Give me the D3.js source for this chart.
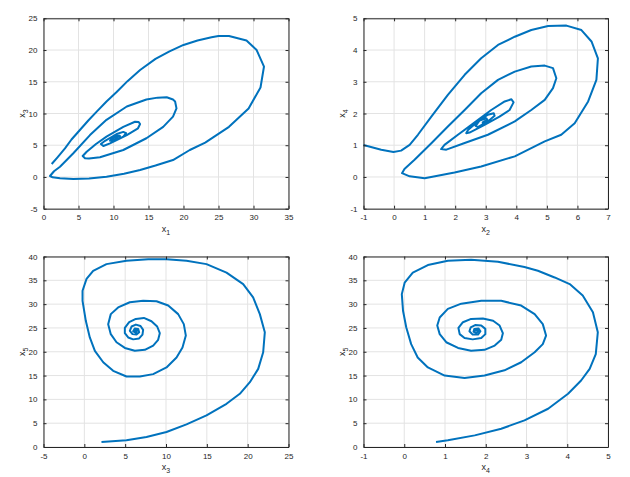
<!DOCTYPE html>
<html>
<head>
<meta charset="utf-8">
<script src="https://cdn.jsdelivr.net/npm/d3@7"></script>
<style>
  body { margin: 0; background: #fff; }
  text { font-family: "Liberation Sans", Arial, sans-serif; }
</style>
</head>
<body>
<svg id="fig" width="630" height="477"></svg>
<script>
// trajectory points, [x, y]
var traj_x1x3 = [[1.17,2.04],[2,3.1],[3.07,4.5],[4,5.9],[5.2,7.4],[6.4,8.9],[7.6,10.3],[9,11.9],[10.45,13.4],[12,15.1],[13.8,16.85],[16,18.6],[18,19.8],[20,20.8],[22,21.5],[24,22.0],[25,22.2],[26.5,22.2],[29.0,21.5],[30.45,20.0],[31.5,17.4],[31.0,14.1],[29.3,10.8],[26.5,7.9],[23.1,5.4],[20.9,4.25],[18.5,2.67],[16,1.8],[13.8,1.1],[11.5,0.5],[9,0.04],[6.5,-0.25],[4.26,-0.32],[2.36,-0.2],[1.3,-0.05],[0.93,0.15],[1.5,0.9],[2.36,1.62],[4.26,3.73],[6.64,6.6],[9.0,9.0],[11.9,11.1],[14.7,12.2],[16.3,12.5],[17.6,12.55],[18.5,12.2],[18.8,11.9],[19.0,10.8],[18.5,9.5],[17.1,7.9],[14.7,6.1],[11.4,4.25],[8.07,3.1],[6.5,2.9],[5.93,2.94],[5.6,3.3],[6.17,3.98],[7.5,5.2],[9.0,6.35],[11.4,7.9],[13.07,8.7],[13.6,8.65],[13.8,8.35],[13.5,7.67],[11.9,6.6],[9.5,5.3],[8.55,4.88],[8.2,5.2],[8.8,5.7],[10.45,6.77],[11.4,7.1],[11.8,6.9],[11.4,6.35],[10.2,5.7],[9.5,5.7],[9.74,6.1],[10.3,6.45],[10.9,6.5],[10.95,6.2],[10.4,5.85],[9.9,5.9],[10.1,6.2],[10.6,6.25],[10.5,6.0],[10.2,6.05]];

var traj_x2x4 = [[-1,1.01],[-0.42,0.86],[-0.02,0.79],[0.23,0.83],[0.51,1.01],[0.78,1.33],[1.22,1.9],[1.76,2.59],[2.31,3.22],[2.85,3.74],[3.40,4.16],[3.95,4.42],[4.49,4.63],[5.04,4.76],[5.64,4.77],[6.13,4.63],[6.46,4.27],[6.67,3.74],[6.62,3.06],[6.35,2.38],[5.91,1.69],[5.47,1.33],[4.93,1.12],[3.95,0.65],[2.85,0.33],[1.98,0.14],[1.0,-0.04],[0.51,0.02],[0.26,0.12],[0.34,0.25],[0.67,0.54],[1.22,1.06],[1.76,1.59],[2.31,2.11],[2.85,2.64],[3.40,3.06],[3.95,3.32],[4.49,3.48],[4.93,3.51],[5.2,3.43],[5.31,3.11],[5.2,2.8],[4.93,2.43],[4.49,2.11],[3.95,1.75],[3.07,1.33],[2.31,1.07],[1.71,0.86],[1.54,0.88],[1.65,1.01],[2.09,1.33],[2.64,1.72],[3.18,2.11],[3.62,2.38],[3.84,2.45],[3.91,2.35],[3.78,2.11],[3.45,1.9],[2.96,1.64],[2.47,1.4],[2.36,1.38],[2.42,1.48],[2.74,1.75],[3.07,1.96],[3.26,2.01],[3.29,1.93],[3.07,1.75],[2.74,1.57],[2.67,1.61],[2.8,1.78],[3.02,1.85],[3.07,1.78],[2.91,1.67],[2.9,1.72],[3.0,1.78],[3.05,1.73],[2.98,1.7]];

var traj_x3x5 = [[2.10,1.05],[5.16,1.40],[7.61,2.09],[10.06,3.14],[12.51,4.75],[14.96,6.63],[17.41,9.07],[19.04,11.17],[20.27,13.61],[21.29,16.4],[21.9,19.9],[22.1,24.1],[21.49,27.9],[20.67,31.4],[19.45,34.2],[17.41,36.6],[14.96,38.4],[12.51,39.1],[10.06,39.4],[7.82,39.4],[5.16,39.1],[2.71,38.4],[1.08,37.0],[0.27,35.3],[-0.22,32.8],[-0.22,30.7],[0.18,26.5],[0.67,23.0],[1.29,20.2],[2.31,17.8],[3.53,16.0],[5.16,14.8],[6.8,14.8],[8.43,15.3],[10.06,16.7],[11.29,18.8],[12.02,20.9],[12.43,23.4],[12.18,25.8],[11.49,27.9],[10.27,29.7],[8.84,30.6],[7.2,30.7],[5.57,30.4],[4.14,29.3],[3.24,27.9],[2.92,25.8],[3.24,23.7],[3.94,22.0],[4.96,20.8],[6.18,20.2],[7.41,20.4],[8.43,21.3],[9.04,22.5],[9.24,23.9],[8.92,25.3],[8.22,26.4],[7.29,27.1],[6.31,26.9],[5.49,26.2],[4.96,25.0],[4.96,23.9],[5.37,23.0],[5.98,22.6],[6.71,22.8],[7.12,23.6],[7.2,24.6],[6.88,25.4],[6.31,25.7],[5.78,25.3],[5.57,24.4],[5.9,23.7],[6.39,23.6],[6.71,24.1],[6.59,24.8],[6.18,24.9],[5.98,24.3],[6.31,24.0],[6.45,24.4],[6.1,24.6],[6.0,24.3]];

var traj_x4x5 = [[0.78,1.05],[1.07,1.40],[1.73,2.44],[2.38,3.84],[2.95,5.58],[3.53,8.03],[4.02,11.17],[4.34,13.96],[4.55,16.4],[4.70,19.5],[4.75,24.1],[4.63,28.3],[4.38,31.8],[4.06,34.2],[3.69,35.6],[3.28,37.0],[2.95,37.8],[2.30,38.9],[1.64,39.3],[1.07,39.1],[0.58,38.2],[0.21,36.6],[0.01,34.5],[-0.06,32.1],[-0.03,28.6],[0.05,25.1],[0.17,21.6],[0.33,18.8],[0.58,16.7],[0.99,15.0],[1.48,14.5],[1.97,15.0],[2.46,16.1],[2.87,17.8],[3.20,19.9],[3.40,21.6],[3.48,23.4],[3.40,25.8],[3.20,27.9],[2.87,29.7],[2.38,30.7],[1.89,30.7],[1.40,30.1],[1.07,29.0],[0.87,27.2],[0.81,25.5],[0.87,23.7],[1.03,22.0],[1.32,20.8],[1.64,20.2],[1.97,20.4],[2.22,21.3],[2.38,22.5],[2.42,23.9],[2.34,25.5],[2.18,26.5],[1.93,27.0],[1.64,26.9],[1.44,26.2],[1.33,25.0],[1.36,23.7],[1.48,22.9],[1.68,22.6],[1.89,22.9],[1.99,23.7],[1.99,24.8],[1.89,25.5],[1.74,25.6],[1.63,25.1],[1.60,24.3],[1.68,23.6],[1.81,23.6],[1.87,24.3],[1.82,24.9],[1.72,24.8],[1.70,24.2],[1.78,24.0],[1.82,24.4],[1.75,24.6],[1.72,24.4]];

// tick values
var ticks_x1 = [0, 5, 10, 15, 20, 25, 30, 35];
var ticks_x3a = [-5, 0, 5, 10, 15, 20, 25];
var ticks_x2 = [-1, 0, 1, 2, 3, 4, 5, 6, 7];
var ticks_x4a = [-1, 0, 1, 2, 3, 4, 5];
var ticks_x3b = [-5, 0, 5, 10, 15, 20, 25];
var ticks_x4b = [-1, 0, 1, 2, 3, 4, 5];
var ticks_x5 = [0, 5, 10, 15, 20, 25, 30, 35, 40];

var panels = [
  {left: 43.5, top: 18.3, w: 245, h: 190.4, xt: ticks_x1, yt: ticks_x3a, xl: "1", yl: "3", data: traj_x1x3},
  {left: 363.5, top: 18.3, w: 244.5, h: 190.4, xt: ticks_x2, yt: ticks_x4a, xl: "2", yl: "4", data: traj_x2x4},
  {left: 43.5, top: 256.5, w: 245, h: 190.5, xt: ticks_x3b, yt: ticks_x5, xl: "3", yl: "5", data: traj_x3x5},
  {left: 363.5, top: 256.5, w: 244.5, h: 190.5, xt: ticks_x4b, yt: ticks_x5, xl: "4", yl: "5", data: traj_x4x5}
];

var svg = d3.select("#fig");
var fmt = function(d) { return String(d); };

panels.forEach(function(p) {
  var g = svg.append("g").attr("transform", "translate(" + p.left + "," + p.top + ")");
  var x = d3.scaleLinear().domain(d3.extent(p.xt)).range([0, p.w]);
  var y = d3.scaleLinear().domain(d3.extent(p.yt)).range([p.h, 0]);

  // grid
  g.selectAll(".gx").data(p.xt).enter().append("line")
    .attr("x1", function(d) { return x(d); }).attr("x2", function(d) { return x(d); })
    .attr("y1", 0).attr("y2", p.h)
    .attr("stroke", "#e3e3e3").attr("stroke-width", 1);
  g.selectAll(".gy").data(p.yt).enter().append("line")
    .attr("y1", function(d) { return y(d); }).attr("y2", function(d) { return y(d); })
    .attr("x1", 0).attr("x2", p.w)
    .attr("stroke", "#e3e3e3").attr("stroke-width", 1);

  // curve
  var line = d3.line().x(function(d) { return x(d[0]); }).y(function(d) { return y(d[1]); });
  g.append("path").datum(p.data)
    .attr("d", line)
    .attr("fill", "none")
    .attr("stroke", "#0072BD")
    .attr("stroke-width", 2)
    .attr("stroke-linejoin", "round");

  // axes: inward ticks on all sides, like a boxed MATLAB axes
  var axB = d3.axisBottom(x).tickValues(p.xt).tickSizeInner(-3).tickSizeOuter(0).tickPadding(6).tickFormat(fmt);
  var axT = d3.axisTop(x).tickValues(p.xt).tickSizeInner(-3).tickSizeOuter(0).tickFormat("");
  var axL = d3.axisLeft(y).tickValues(p.yt).tickSizeInner(-3).tickSizeOuter(0).tickPadding(6).tickFormat(fmt);
  var axR = d3.axisRight(y).tickValues(p.yt).tickSizeInner(-3).tickSizeOuter(0).tickFormat("");

  [[axB, "translate(0," + p.h + ")"], [axT, null], [axL, null], [axR, "translate(" + p.w + ",0)"]].forEach(function(a) {
    var ag = g.append("g").call(a[0]);
    if (a[1]) ag.attr("transform", a[1]);
    ag.select(".domain").attr("stroke", "#262626").attr("stroke-width", 1);
    ag.selectAll(".tick line").attr("stroke", "#262626");
    ag.selectAll(".tick text").attr("fill", "#262626").style("font-size", "8px")
      .style("font-family", "'Liberation Sans', Arial, sans-serif");
  });

  // axis labels
  var xl = g.append("text").attr("x", p.w / 2).attr("y", p.h + 23)
    .attr("text-anchor", "middle").attr("fill", "#262626").style("font-size", "9px");
  xl.append("tspan").text("x");
  xl.append("tspan").attr("dy", 3).style("font-size", "7px").text(p.xl);

  var yl = g.append("text").attr("transform", "translate(-19," + (p.h / 2) + ") rotate(-90)")
    .attr("text-anchor", "middle").attr("fill", "#262626").style("font-size", "9px");
  yl.append("tspan").text("x");
  yl.append("tspan").attr("dy", 3).style("font-size", "7px").text(p.yl);
});
</script>
</body>
</html>
